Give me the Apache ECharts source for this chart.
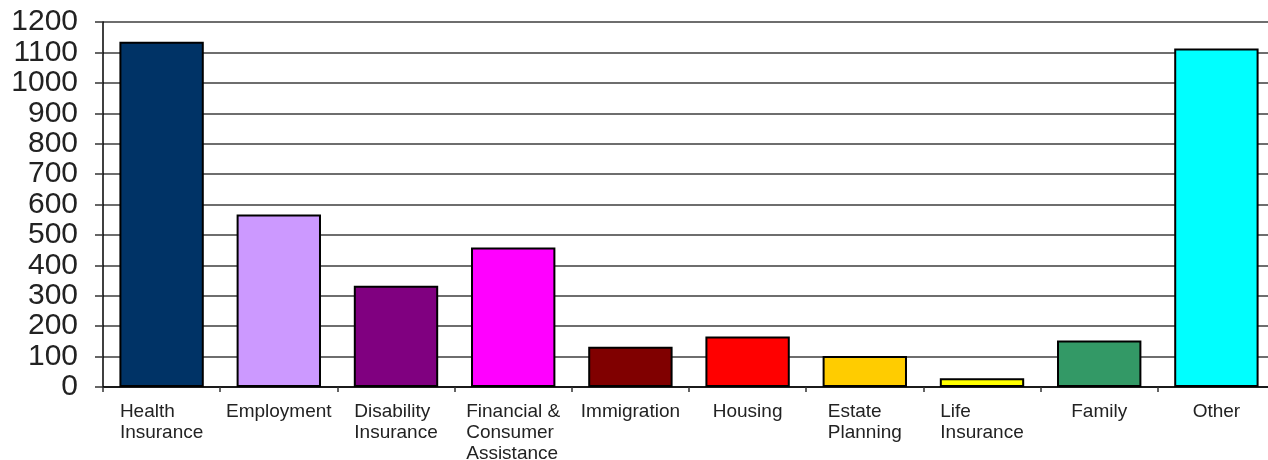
<!DOCTYPE html>
<html>
<head>
<meta charset="utf-8">
<script src="https://cdn.jsdelivr.net/npm/echarts@6/dist/echarts.min.js"></script>
<style>
html,body{margin:0;padding:0;background:#fff;}
#chart{width:1268px;height:460px;}
</style>
</head>
<body>
<div id="chart"></div>
<script>
const categories = ['Health\nInsurance','Employment','Disability\nInsurance','Financial &\nConsumer\nAssistance','Immigration','Housing','Estate\nPlanning','Life\nInsurance','Family','Other'];
const values = [1135, 567, 333, 459, 132, 166, 102, 29, 153, 1113];
const barColors = ['#003366','#CC99FF','#800080','#FF00FF','#800000','#FF0000','#FFCC00','#FFFF00','#339966','#00FFFF'];

const chart = echarts.init(document.getElementById('chart'));
chart.setOption({
  animation: false,
  backgroundColor: '#ffffff',
  grid: {left: 103, top: 22, width: 1172, bottom: 73, containLabel: false, outerBoundsMode: 'none'},
  xAxis: {
    type: 'category',
    data: categories,
    axisLine: {lineStyle: {color: '#000', width: 1.5}},
    axisTick: {show: true, length: 5, lineStyle: {color: '#333', width: 1.5}},
    axisLabel: {
      interval: 0,
      margin: 14,
      color: '#222',
      fontFamily: 'Liberation Sans, Arial, sans-serif',
      fontSize: 19,
      lineHeight: 21,
      formatter: v => v.split('\n').map(s => '{l|' + s + '}').join('\n'),
      rich: {l: {align: 'left', fontSize: 19, lineHeight: 21, color: '#222', fontFamily: 'Liberation Sans, Arial, sans-serif'}}
    }
  },
  yAxis: {
    type: 'value',
    min: 0, max: 1200, interval: 100,
    axisLine: {show: true, lineStyle: {color: '#000', width: 1.5}},
    axisTick: {show: true, length: 8, lineStyle: {color: '#333', width: 1.5}},
    axisLabel: {margin: 25, color: '#222', fontSize: 30, fontFamily: 'Liberation Sans, Arial, sans-serif', formatter: v => String(v)},
    splitLine: {show: true, lineStyle: {color: '#6e6e6e', width: 2}}
  },
  series: [{
    type: 'bar',
    data: values.map((v, i) => ({value: v, itemStyle: {color: barColors[i]}})),
    barCategoryGap: '28%',
    itemStyle: {borderColor: '#000', borderWidth: 2}
  }]
});
</script>
</body>
</html>
